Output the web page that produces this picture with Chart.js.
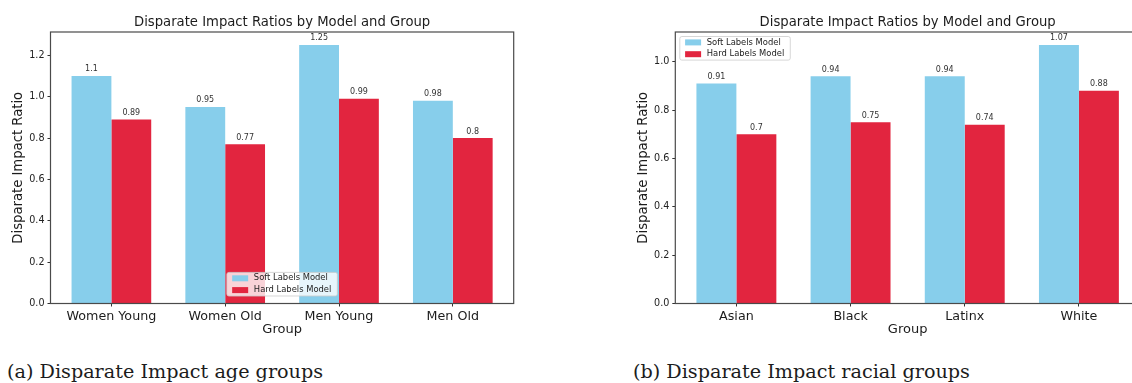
<!DOCTYPE html>
<html>
<head>
<meta charset="utf-8">
<script src="https://cdn.jsdelivr.net/npm/chart.js@4.4.1/dist/chart.umd.min.js"></script>
<style>
  html, body { margin: 0; padding: 0; background: #fff; }
  body { width: 1132px; height: 383px; overflow: hidden; position: relative; }
  canvas { position: absolute; top: 0; }
  #ageChart { left: 0; }
  #raceChart { left: 625px; }
  .caption {
    position: absolute;
    font-family: "DejaVu Serif", serif;
    font-size: 19.2px;
    line-height: 20px;
    color: #1c1c1c;
    white-space: nowrap;
  }
  #capA { left: 7px; top: 362px; }
  #capB { left: 633px; top: 362px; }
</style>
</head>
<body>
<canvas id="ageChart" width="560" height="345"></canvas>
<canvas id="raceChart" width="561" height="345"></canvas>
<div class="caption" id="capA">(a) Disparate Impact age groups</div>
<div class="caption" id="capB">(b) Disparate Impact racial groups</div>

<script>
// ---- data ----
const seriesNames = ['Soft Labels Model', 'Hard Labels Model'];
const seriesColors = ['#87CEEB', '#E2253F'];

const ageGroups = ['Women Young', 'Women Old', 'Men Young', 'Men Old'];
const ageSoft = [1.10, 0.95, 1.25, 0.98];
const ageHard = [0.89, 0.77, 0.99, 0.80];
const ageTicks = [0.0, 0.2, 0.4, 0.6, 0.8, 1.0, 1.2];

const raceGroups = ['Asian', 'Black', 'Latinx', 'White'];
const raceSoft = [0.91, 0.94, 0.94, 1.07];
const raceHard = [0.70, 0.75, 0.74, 0.88];
const raceTicks = [0.0, 0.2, 0.4, 0.6, 0.8, 1.0];

const chartTitle = 'Disparate Impact Ratios by Model and Group';
const yTitle = 'Disparate Impact Ratio';
const xTitle = 'Group';

// ---- shared drawing helpers ----
Chart.defaults.font.family = '"DejaVu Sans", sans-serif';
Chart.defaults.color = '#222';

const BAR_WIDTH = 0.35;   // width of one bar in category units

function formatValue(v) {
  return String(Math.round(v * 100) / 100);
}

// numbers printed above each bar
const barValueLabels = {
  id: 'barValueLabels',
  afterDatasetsDraw(chart, args, opts) {
    const ctx = chart.ctx;
    ctx.save();
    ctx.font = opts.size + 'px "DejaVu Sans"';
    ctx.fillStyle = opts.color;
    ctx.textAlign = 'center';
    ctx.textBaseline = 'alphabetic';
    chart.data.datasets.forEach((ds, di) => {
      const meta = chart.getDatasetMeta(di);
      meta.data.forEach((bar, i) => {
        ctx.fillText(formatValue(ds.data[i].y), bar.x, bar.y - opts.gap);
      });
    });
    ctx.restore();
  }
};

// frame around the plotting area
const frameBox = {
  id: 'frameBox',
  afterDatasetsDraw(chart, args, opts) {
    const { ctx, chartArea: a } = chart;
    ctx.save();
    ctx.strokeStyle = opts.color;
    ctx.lineWidth = opts.width;
    ctx.strokeRect(a.left, a.top, a.right - a.left, a.bottom - a.top);
    ctx.restore();
  }
};

// legend drawn inside the plotting area
const insetLegend = {
  id: 'insetLegend',
  afterDraw(chart, args, o) {
    const { ctx, chartArea: a } = chart;
    ctx.save();
    ctx.font = o.size + 'px "DejaVu Sans"';
    const items = chart.data.datasets.map(d => ({ text: d.label, color: d.backgroundColor }));
    const textW = Math.max(...items.map(it => ctx.measureText(it.text).width));
    const w = o.padX + o.swatchW + o.gapX + textW + o.padRight;
    const h = o.padY * 2 + o.rowH * items.length;
    let x, y;
    if (o.place === 'lower center') {
      x = (a.left + a.right) / 2 - w / 2;
      y = a.bottom - o.inset - h;
    } else {
      x = a.left + o.inset;
      y = a.top + o.inset;
    }
    ctx.globalAlpha = 0.8;
    ctx.fillStyle = '#ffffff';
    ctx.strokeStyle = '#cccccc';
    ctx.lineWidth = 1;
    ctx.beginPath();
    ctx.roundRect(x, y, w, h, 2);
    ctx.fill();
    ctx.stroke();
    ctx.globalAlpha = 1;
    items.forEach((it, k) => {
      const cy = y + o.padY + o.rowH * (k + 0.5);
      ctx.fillStyle = it.color;
      ctx.fillRect(x + o.padX, cy - o.swatchH / 2, o.swatchW, o.swatchH);
      ctx.fillStyle = '#222';
      ctx.textAlign = 'left';
      ctx.textBaseline = 'middle';
      ctx.fillText(it.text, x + o.padX + o.swatchW + o.gapX, cy);
    });
    ctx.restore();
  }
};

function drawPanel(canvasId, groups, soft, hard, yTicks, legendPlace, yAxisWidth, padRight) {
  const n = groups.length;
  // axis limits with a 5% margin around the bars
  const lo = -BAR_WIDTH, hi = (n - 1) + BAR_WIDTH;
  const xPad = 0.05 * (hi - lo);
  const yMax = 1.05 * Math.max(...soft, ...hard);

  const axisColor = '#333';

  return new Chart(document.getElementById(canvasId), {
    type: 'bar',
    data: {
      datasets: [
        { label: seriesNames[0], backgroundColor: seriesColors[0],
          data: soft.map((v, i) => ({ x: i, y: v })) },
        { label: seriesNames[1], backgroundColor: seriesColors[1],
          data: hard.map((v, i) => ({ x: i, y: v })) }
      ]
    },
    options: {
      responsive: false,
      animation: false,
      events: [],
      layout: { padding: { left: 0, right: padRight, top: 0, bottom: 3.5 } },
      categoryPercentage: 2 * BAR_WIDTH,
      barPercentage: 1.0,
      borderWidth: 0,
      scales: {
        x: {
          type: 'linear',
          offset: false,
          min: lo - xPad,
          max: hi + xPad,
          afterBuildTicks: s => { s.ticks = groups.map((g, i) => ({ value: i })); },
          afterFit: s => { s.height = 38; },
          ticks: {
            callback: v => groups[v],
            font: { size: 12.7 },
            color: '#1c1c1c',
            padding: 2.5,
            maxRotation: 0,
            autoSkip: false
          },
          grid: { offset: false, drawOnChartArea: false, drawTicks: true,
                  tickLength: 3, tickColor: axisColor, tickWidth: 1 },
          border: { display: false },
          title: { display: true, text: xTitle, font: { size: 13 }, color: '#1c1c1c',
                   padding: { top: 0, bottom: 4.2 } }
        },
        y: {
          min: 0,
          max: yMax,
          afterBuildTicks: s => { s.ticks = yTicks.map(v => ({ value: v })); },
          afterFit: s => { s.width = yAxisWidth; },
          ticks: { callback: v => v.toFixed(1), font: { size: 9.6 }, color: '#222', padding: 3 },
          grid: { drawOnChartArea: false, drawTicks: true, tickLength: 3,
                  tickColor: axisColor, tickWidth: 1 },
          border: { display: false },
          title: { display: true, text: yTitle, font: { size: 13.2 }, color: '#1c1c1c',
                   padding: { top: 10.4, bottom: 0 } }
        }
      },
      plugins: {
        legend: { display: false },
        tooltip: { enabled: false },
        title: {
          display: true,
          fullSize: false,
          text: chartTitle,
          color: '#1c1c1c',
          font: { size: 13.2, weight: 'normal' },
          padding: { top: 14.3, bottom: 1.86 }
        },
        barValueLabels: { size: 8, color: '#333', gap: 4.5 },
        frameBox: { color: '#4a4a4a', width: 1.2 },
        insetLegend: {
          place: legendPlace, size: 8.4, inset: legendPlace === 'lower center' ? 7.5 : 4.5,
          padX: 5.3, padY: 0, padRight: 6, gapX: 5.7,
          swatchW: 16, swatchH: 6, rowH: 11.8
        }
      }
    },
    plugins: [barValueLabels, frameBox, insetLegend]
  });
}

drawPanel('ageChart', ageGroups, ageSoft, ageHard, ageTicks, 'lower center', 50.5, 46.3);
drawPanel('raceChart', raceGroups, raceSoft, raceHard, raceTicks, 'upper left', 50.3, 46);
</script>
</body>
</html>
